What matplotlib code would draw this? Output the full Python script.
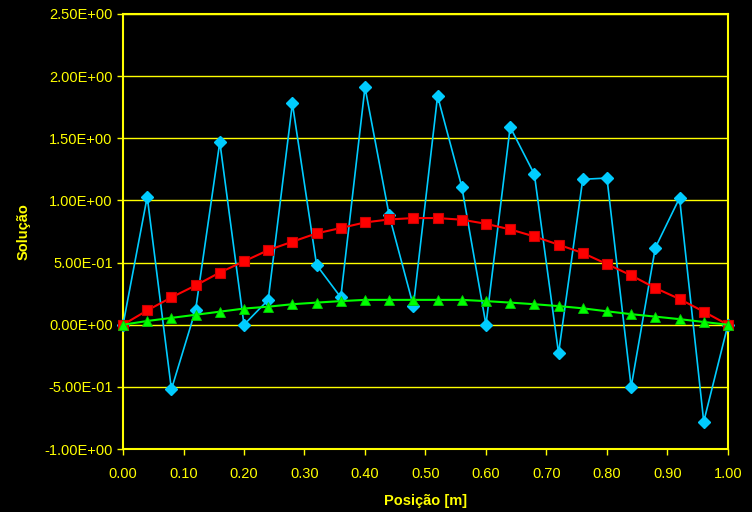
import numpy as np
import matplotlib

matplotlib.use("Agg")
import matplotlib.pyplot as plt
from matplotlib.ticker import FuncFormatter, MultipleLocator

# positions along the bar [m]
posicao = [0.00, 0.04, 0.08, 0.12, 0.16, 0.20, 0.24, 0.28, 0.32, 0.36, 0.40,
           0.44, 0.48, 0.52, 0.56, 0.60, 0.64, 0.68, 0.72, 0.76, 0.80, 0.84,
           0.88, 0.92, 0.96, 1.00]

# oscillating solution (cyan diamonds)
sol_oscilante = [0.00, 1.03, -0.52, 0.12, 1.47, 0.00, 0.20, 1.78, 0.48, 0.22,
                 1.91, 0.88, 0.15, 1.84, 1.11, 0.00, 1.59, 1.21, -0.23, 1.17,
                 1.18, -0.50, 0.62, 1.02, -0.78, 0.00]

# smooth solution (red squares)
sol_vermelha = [0.00, 0.115, 0.22, 0.316, 0.42, 0.51, 0.60, 0.668, 0.735,
                0.778, 0.823, 0.847, 0.858, 0.858, 0.845, 0.812, 0.767, 0.71,
                0.644, 0.577, 0.488, 0.397, 0.295, 0.207, 0.105, 0.00]

# smooth solution (green triangles)
sol_verde = [0.00, 0.03, 0.055, 0.08, 0.105, 0.13, 0.145, 0.165, 0.178, 0.19,
             0.20, 0.20, 0.20, 0.20, 0.20, 0.19, 0.178, 0.165, 0.15, 0.132,
             0.108, 0.085, 0.065, 0.045, 0.022, 0.00]

YELLOW = "#FFFF00"
plt.rcParams["font.family"] = ["Liberation Sans", "DejaVu Sans"]

fig = plt.figure(figsize=(7.52, 5.12), dpi=100, facecolor="black")
ax = fig.add_axes([0.1636, 0.123, 0.8044, 0.8497], facecolor="black")

ax.plot(posicao, sol_oscilante, color="#00CCFF", lw=1.2, marker="D", ms=6,
        mec="#00CCFF", zorder=3, clip_on=False)
ax.plot(posicao, sol_vermelha, color="#FF0000", lw=1.5, marker="s", ms=6.5,
        mec="#CC0000", mew=0.8, zorder=4, clip_on=False)
ax.plot(posicao, sol_verde, color="#00FF00", lw=1.5, marker="^", ms=7.5,
        mec="#00CC00", mew=0.6, zorder=5, clip_on=False)

ax.set_xlim(0, 1)
ax.set_ylim(-1.0, 2.5)
ax.xaxis.set_major_locator(MultipleLocator(0.1))
ax.yaxis.set_major_locator(MultipleLocator(0.5))
ax.xaxis.set_major_formatter(FuncFormatter(lambda v, p: f"{v:.2f}"))
ax.yaxis.set_major_formatter(FuncFormatter(lambda v, p: f"{v:.2E}"))

ax.grid(axis="y", color=YELLOW, lw=1.0, zorder=1)
for side in ax.spines.values():
    side.set_color(YELLOW)
    side.set_linewidth(1.5)

ax.tick_params(colors=YELLOW, labelcolor=YELLOW, labelsize=10.5,
               direction="out", length=4, width=1)
ax.tick_params(axis="x", pad=9)

ax.set_xlabel("Posição [m]", color=YELLOW, fontsize=10.5, fontweight="bold",
              labelpad=9)
ax.set_ylabel("Solução", color=YELLOW, fontsize=10.5, fontweight="bold",
              labelpad=10)

fig.savefig("out.png", dpi=100, facecolor="black")
